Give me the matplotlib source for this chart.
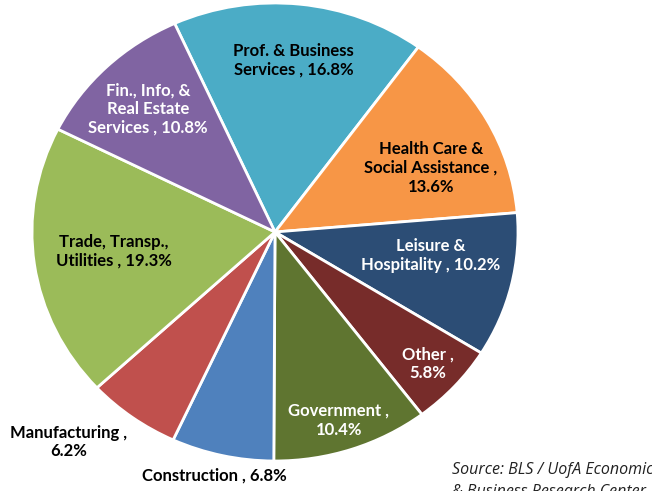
import matplotlib.pyplot as plt
import numpy as np

# employment share by sector
sectors = ['Prof. & Business\nServices', 'Health Care &\nSocial Assistance', 'Leisure &\nHospitality',
           'Other', 'Government', 'Construction', 'Manufacturing', 'Trade, Transp.,\nUtilities',
           'Fin., Info, &\nReal Estate\nServices']
shares = [16.8, 13.6, 10.2, 5.8, 10.4, 6.8, 6.2, 19.3, 10.8]
colors = ['#4BACC6', '#F79646', '#2C4D75', '#772C2A', '#5F7530', '#4F81BD', '#C0504D', '#9BBB59', '#8064A2']
text_colors = ['black', 'black', 'white', 'white', 'white', 'black', 'black', 'black', 'white']

# label text layout: (radius, angle tweak in degrees, separator)
label_layout = [(0.755, 0, ' , '), (0.70, -5.8, ' ,\n'), (0.65, 4.5, ' , '), (0.853, -0.2, ' ,\n'),
                (0.863, -0.7, ' ,\n'), (1.09, -0.6, ' , '), (1.25, -6.9, ' ,\n'), (0.668, -0.9, ' , '),
                (0.75, 0.25, ' , ')]

fig = plt.figure(figsize=(6.52, 4.91), dpi=100)
ax = fig.add_axes([32 / 652, 30 / 491, 486 / 652, 458 / 491])

wedges, _ = ax.pie(shares, colors=colors, startangle=114.4, counterclock=False,
                   wedgeprops=dict(edgecolor='white', linewidth=2))
ax.set_aspect('auto')
ax.set_xlim(-1, 1)
ax.set_ylim(-1, 1)

for w, name, val, tc, (r, da, sep) in zip(wedges, sectors, shares, text_colors, label_layout):
    mid = np.deg2rad((w.theta1 + w.theta2) / 2 + da)
    label = name + sep + f'{val}%'
    ax.text(r * np.cos(mid), r * np.sin(mid), label, ha='center', va='center',
            color=tc, fontsize=12, fontweight='bold', family='Lato', linespacing=1.2)

# source note, second line runs off the bottom like the original
fig.text(452 / 652, 1 - 462 / 491, 'Source: BLS / UofA Economic\n& Business Research Center',
         ha='left', va='top', fontsize=11.5, style='italic', color='#222222',
         family='Open Sans', linespacing=1.5)

fig.savefig('out.png', dpi=100)
